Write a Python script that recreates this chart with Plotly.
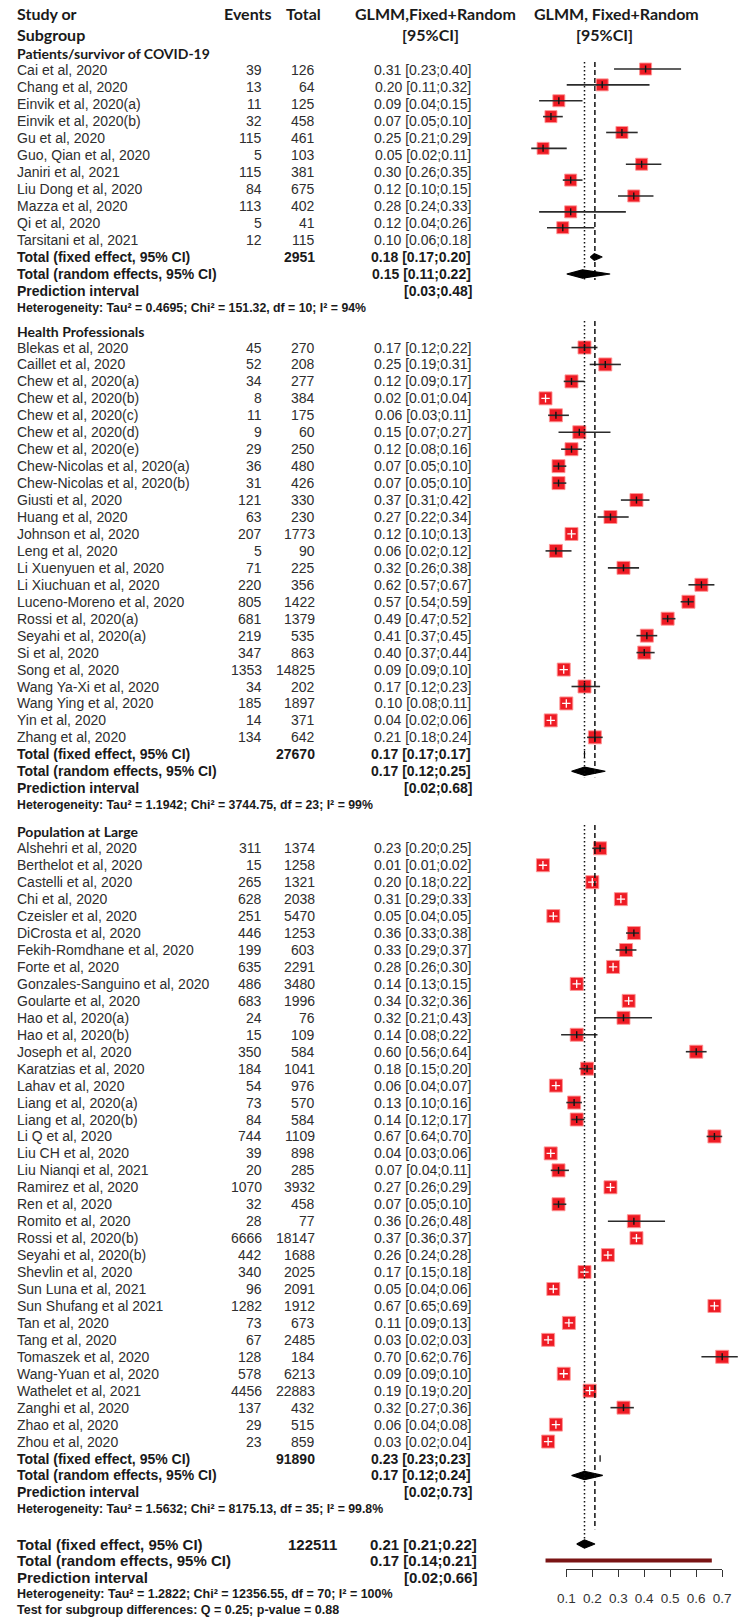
import plotly.graph_objects as go

W, H = 750, 1618          # target window (the page body margin is removed below)

# ---------------- DATA ----------------
group_titles = ["Patients/survivor of COVID-19", "Health Professionals", "Population at Large"]

g1_names = ["Cai et al, 2020", "Chang et al, 2020", "Einvik et al, 2020(a)", "Einvik et al, 2020(b)",
            "Gu et al, 2020", "Guo, Qian et al, 2020", "Janiri et al, 2021", "Liu Dong et al, 2020",
            "Mazza et al, 2020", "Qi et al, 2020", "Tarsitani et al, 2021"]
g1_events = [39, 13, 11, 32, 115, 5, 115, 84, 113, 5, 12]
g1_total = [126, 64, 125, 458, 461, 103, 381, 675, 402, 41, 115]
g1_est = [0.31, 0.20, 0.09, 0.07, 0.25, 0.05, 0.30, 0.12, 0.28, 0.12, 0.10]
g1_lo = [0.23, 0.11, 0.04, 0.05, 0.21, 0.02, 0.26, 0.10, 0.24, 0.04, 0.06]
g1_hi = [0.40, 0.32, 0.15, 0.10, 0.29, 0.11, 0.35, 0.15, 0.33, 0.26, 0.18]

g2_names = ["Blekas et al, 2020", "Caillet et al, 2020", "Chew et al, 2020(a)", "Chew et al, 2020(b)",
            "Chew et al, 2020(c)", "Chew et al, 2020(d)", "Chew et al, 2020(e)",
            "Chew-Nicolas et al, 2020(a)", "Chew-Nicolas et al, 2020(b)", "Giusti et al, 2020",
            "Huang et al, 2020", "Johnson et al, 2020", "Leng et al, 2020", "Li Xuenyuen et al, 2020",
            "Li Xiuchuan et al, 2020", "Luceno-Moreno et al, 2020", "Rossi et al, 2020(a)",
            "Seyahi et al, 2020(a)", "Si et al, 2020", "Song et al, 2020", "Wang Ya-Xi et al, 2020",
            "Wang Ying et al, 2020", "Yin et al, 2020", "Zhang et al, 2020"]
g2_events = [45, 52, 34, 8, 11, 9, 29, 36, 31, 121, 63, 207, 5, 71, 220, 805, 681, 219, 347, 1353, 34, 185, 14, 134]
g2_total = [270, 208, 277, 384, 175, 60, 250, 480, 426, 330, 230, 1773, 90, 225, 356, 1422, 1379, 535, 863,
            14825, 202, 1897, 371, 642]
g2_est = [0.17, 0.25, 0.12, 0.02, 0.06, 0.15, 0.12, 0.07, 0.07, 0.37, 0.27, 0.12, 0.06, 0.32, 0.62, 0.57,
          0.49, 0.41, 0.40, 0.09, 0.17, 0.10, 0.04, 0.21]
g2_lo = [0.12, 0.19, 0.09, 0.01, 0.03, 0.07, 0.08, 0.05, 0.05, 0.31, 0.22, 0.10, 0.02, 0.26, 0.57, 0.54,
         0.47, 0.37, 0.37, 0.09, 0.12, 0.08, 0.02, 0.18]
g2_hi = [0.22, 0.31, 0.17, 0.04, 0.11, 0.27, 0.16, 0.10, 0.10, 0.42, 0.34, 0.13, 0.12, 0.38, 0.67, 0.59,
         0.52, 0.45, 0.44, 0.10, 0.23, 0.11, 0.06, 0.24]

g3_names = ["Alshehri et al, 2020", "Berthelot et al, 2020", "Castelli et al, 2020", "Chi et al, 2020",
            "Czeisler et al, 2020", "DiCrosta et al, 2020", "Fekih-Romdhane et al, 2020", "Forte et al, 2020",
            "Gonzales-Sanguino et al, 2020", "Goularte et al, 2020", "Hao et al, 2020(a)", "Hao et al, 2020(b)",
            "Joseph et al, 2020", "Karatzias et al, 2020", "Lahav et al, 2020", "Liang et al, 2020(a)",
            "Liang et al, 2020(b)", "Li Q et al, 2020", "Liu CH et al, 2020", "Liu Nianqi et al, 2021",
            "Ramirez et al, 2020", "Ren et al, 2020", "Romito et al, 2020", "Rossi et al, 2020(b)",
            "Seyahi et al, 2020(b)", "Shevlin et al, 2020", "Sun Luna et al, 2021", "Sun Shufang et al 2021",
            "Tan et al, 2020", "Tang et al, 2020", "Tomaszek et al, 2020", "Wang-Yuan et al, 2020",
            "Wathelet et al, 2021", "Zanghi et al, 2020", "Zhao et al, 2020", "Zhou et al, 2020"]
g3_events = [311, 15, 265, 628, 251, 446, 199, 635, 486, 683, 24, 15, 350, 184, 54, 73, 84, 744, 39, 20, 1070,
             32, 28, 6666, 442, 340, 96, 1282, 73, 67, 128, 578, 4456, 137, 29, 23]
g3_total = [1374, 1258, 1321, 2038, 5470, 1253, 603, 2291, 3480, 1996, 76, 109, 584, 1041, 976, 570, 584, 1109,
            898, 285, 3932, 458, 77, 18147, 1688, 2025, 2091, 1912, 673, 2485, 184, 6213, 22883, 432, 515, 859]
g3_est = [0.23, 0.01, 0.20, 0.31, 0.05, 0.36, 0.33, 0.28, 0.14, 0.34, 0.32, 0.14, 0.60, 0.18, 0.06, 0.13, 0.14,
          0.67, 0.04, 0.07, 0.27, 0.07, 0.36, 0.37, 0.26, 0.17, 0.05, 0.67, 0.11, 0.03, 0.70, 0.09, 0.19, 0.32,
          0.06, 0.03]
g3_lo = [0.20, 0.01, 0.18, 0.29, 0.04, 0.33, 0.29, 0.26, 0.13, 0.32, 0.21, 0.08, 0.56, 0.15, 0.04, 0.10, 0.12,
         0.64, 0.03, 0.04, 0.26, 0.05, 0.26, 0.36, 0.24, 0.15, 0.04, 0.65, 0.09, 0.02, 0.62, 0.09, 0.19, 0.27,
         0.04, 0.02]
g3_hi = [0.25, 0.02, 0.22, 0.33, 0.05, 0.38, 0.37, 0.30, 0.15, 0.36, 0.43, 0.22, 0.64, 0.20, 0.07, 0.16, 0.17,
         0.70, 0.06, 0.11, 0.29, 0.10, 0.48, 0.37, 0.28, 0.18, 0.06, 0.69, 0.13, 0.03, 0.76, 0.10, 0.20, 0.36,
         0.08, 0.04]

group_n = [2951, 27670, 91890]
fixed_est = [0.18, 0.17, 0.23]
fixed_lo = [0.17, 0.17, 0.23]
fixed_hi = [0.20, 0.17, 0.23]
random_est = [0.15, 0.17, 0.17]
random_lo = [0.11, 0.12, 0.12]
random_hi = [0.22, 0.25, 0.24]
pred_lo = [0.03, 0.02, 0.02]
pred_hi = [0.48, 0.68, 0.73]
het_tau2 = ["0.4695", "1.1942", "1.5632"]
het_chi2 = ["151.32", "3744.75", "8175.13"]
het_df = [10, 23, 35]
het_i2 = ["94%", "99%", "99.8%"]

overall_n = 122511
overall_fixed = [0.21, 0.21, 0.22]
overall_random = [0.17, 0.14, 0.21]
overall_pred = [0.02, 0.66]
overall_het = ["1.2822", "12356.55", 70, "100%"]
subgroup_q = "0.25"
subgroup_p = "0.88"

ref_random = 0.17
ref_fixed = 0.21
axis_ticks = [0.1, 0.2, 0.3, 0.4, 0.5, 0.6, 0.7]

groups = [
    (g1_names, g1_events, g1_total, g1_est, g1_lo, g1_hi),
    (g2_names, g2_events, g2_total, g2_est, g2_lo, g2_hi),
    (g3_names, g3_events, g3_total, g3_est, g3_lo, g3_hi),
]

# ---------------- LAYOUT PARAMETERS (window pixels) ----------------
PX0, PXU = 544.4, 266.2      # main panel scale  (pixel = PX0 + PXU * value)
G1X0, G1XU = 527.0, 404.0    # first subgroup panel scale
layout_g = [
    dict(header=53.5, first=70.0, row=17.0, mfirst=69.0, mrow=15.87, xa="x2", unit=G1XU, top=62, sq=12),
    dict(header=331.0, first=347.5, row=16.95, mfirst=347.5, mrow=16.95, xa="x", unit=PXU, top=321, sq=13),
    dict(header=831.5, first=848.3, row=16.95, mfirst=848.3, mrow=16.95, xa="x", unit=PXU, top=825, sq=13),
]
OV_FIRST, OV_ROW = 1544.0, 16.6

BODY = "Liberation Sans, Arial, sans-serif"
HEAD = "Lato, Carlito, sans-serif"
INK = "#1a1a1a"
SOFT = "#2e2e2e"
X_NAME, X_EV, X_TOT, X_EST = 7, 260, 315, 474

ann = []


def txt(x, y, s, anchor="left", size=14, bold=False, family=BODY, color=INK):
    ann.append(dict(x=x / W, y=y, xref="paper", yref="y", text=(f"<b>{s}</b>" if bold else s),
                    showarrow=False, xanchor=anchor, yanchor="middle", borderpad=0,
                    font=dict(family=family, size=size, color=color)))


def ci(e, l, h):
    return f"{e:.2f} [{l:.2f};{h:.2f}]"


# header
HS = 16
txt(X_NAME, 13, "Study or", size=HS, bold=True, family=HEAD)
txt(X_NAME, 34, "Subgroup", size=HS, bold=True, family=HEAD)
txt(245, 13, "Events", "center", HS, True, HEAD)
txt(302, 13, "Total", "center", HS, True, HEAD)
txt(437, 13, "GLMM,Fixed+Random", "center", HS, True, HEAD)
txt(432, 34, "[95%CI]", "center", HS, True, HEAD)
txt(622, 13, "GLMM, Fixed+Random", "center", HS, True, HEAD)
txt(610, 34, "[95%CI]", "center", HS, True, HEAD)

fig = go.Figure()

seg_dot_x, seg_dot_y, seg_dash_x, seg_dash_y = [], [], [], []

for gi, (names, ev, tot, est, lo, hi) in enumerate(groups):
    L = layout_g[gi]
    n = len(names)
    txt(X_NAME, L["header"], group_titles[gi], size=14, bold=True, family=HEAD)
    ty = [L["first"] + i * L["row"] for i in range(n)]
    my = [L["mfirst"] + i * L["mrow"] for i in range(n)]
    for i in range(n):
        txt(X_NAME, ty[i], names[i], color=SOFT)
        txt(X_EV, ty[i], str(ev[i]), "right", color=SOFT)
        txt(X_TOT, ty[i], str(tot[i]), "right", color=SOFT)
        txt(X_EST, ty[i], ci(est[i], lo[i], hi[i]), "right", color=SOFT)
    y_fix = L["first"] + n * L["row"]
    y_ran = y_fix + L["row"]
    y_pre = y_ran + L["row"]
    y_het = y_pre + L["row"]
    txt(X_NAME, y_fix, "Total (fixed effect, 95% CI)", bold=True)
    txt(X_TOT, y_fix, str(group_n[gi]), "right", bold=True)
    txt(X_EST, y_fix, ci(fixed_est[gi], fixed_lo[gi], fixed_hi[gi]), "right", bold=True)
    txt(X_NAME, y_ran, "Total (random effects, 95% CI)", bold=True)
    txt(X_EST, y_ran, ci(random_est[gi], random_lo[gi], random_hi[gi]), "right", bold=True)
    txt(X_NAME, y_pre, "Prediction interval", bold=True)
    txt(X_EST + 1, y_pre, f"[{pred_lo[gi]:.2f};{pred_hi[gi]:.2f}]", "right", bold=True)
    txt(X_NAME, y_het, f"Heterogeneity: Tau² = {het_tau2[gi]}; Chi² = {het_chi2[gi]}, df = {het_df[gi]}; "
                       f"I² = {het_i2[gi]}", size=12.3, bold=True)

    xa = L["xa"]
    # squares
    fig.add_trace(go.Scatter(x=est, y=my, mode="markers", xaxis=xa, yaxis="y", hoverinfo="skip",
                             marker=dict(symbol="square", size=L["sq"], color="#ee1b24",
                                         line=dict(color="rgba(255,150,150,0.9)", width=1))))
    wide = [(hi[i] - lo[i]) * L["unit"] > L["sq"] - 1 for i in range(n)]
    cx, cy = [], []
    for i in range(n):
        if wide[i]:
            cx += [lo[i], hi[i], None]
            cy += [my[i], my[i], None]
    fig.add_trace(go.Scatter(x=cx, y=cy, mode="lines", xaxis=xa, yaxis="y", hoverinfo="skip",
                             line=dict(color="#2b2b2b", width=1.6)))
    fig.add_trace(go.Scatter(x=[est[i] for i in range(n) if wide[i]], y=[my[i] for i in range(n) if wide[i]],
                             mode="markers", xaxis=xa, yaxis="y", hoverinfo="skip",
                             marker=dict(symbol="line-ns", size=5, line=dict(color="#111", width=1.4))))
    fig.add_trace(go.Scatter(x=[est[i] for i in range(n) if not wide[i]],
                             y=[my[i] for i in range(n) if not wide[i]],
                             mode="markers", xaxis=xa, yaxis="y", hoverinfo="skip",
                             marker=dict(symbol="cross-thin", size=6, line=dict(color="white", width=1.3))))
    # diamonds
    dx, dy = [], []
    for (e, l, h, yy, hh) in [(fixed_est[gi], fixed_lo[gi], fixed_hi[gi], y_fix, 3.2),
                              (random_est[gi], random_lo[gi], random_hi[gi], y_ran, 4.2)]:
        dx += [l, e, h, e, l, None]
        dy += [yy, yy - hh, yy, yy + hh, yy, None]
    fig.add_trace(go.Scatter(x=dx, y=dy, mode="lines", fill="toself", fillcolor="#000", xaxis=xa, yaxis="y",
                             hoverinfo="skip", line=dict(color="#000", width=1.2)))
    # reference line segments
    bottom = y_ran + 6
    if gi < 2:
        seg_dot_x += [ref_random, ref_random, None]
        seg_dot_y += [L["top"], bottom, None]
        seg_dash_x += [ref_fixed, ref_fixed, None]
        seg_dash_y += [L["top"], bottom, None]
    else:
        seg_dot_x += [ref_random, ref_random, None]
        seg_dot_y += [L["top"], OV_FIRST, None]
        seg_dash_x += [ref_fixed, ref_fixed, None]
        seg_dash_y += [L["top"], y_het + 20, None]

fig.add_trace(go.Scatter(x=seg_dot_x, y=seg_dot_y, mode="lines", xaxis="x", yaxis="y", hoverinfo="skip",
                         line=dict(color="#111", width=1.5, dash="1.5px,2.5px")))
fig.add_trace(go.Scatter(x=seg_dash_x, y=seg_dash_y, mode="lines", xaxis="x", yaxis="y", hoverinfo="skip",
                         line=dict(color="#111", width=1.5, dash="5px,3px")))

# overall block
oy = [OV_FIRST + k * OV_ROW for k in range(5)]
OS = 15
txt(X_NAME, oy[0], "Total (fixed effect, 95% CI)", size=OS, bold=True)
txt(337, oy[0], str(overall_n), "right", size=OS, bold=True)
txt(481, oy[0], ci(*overall_fixed), "right", size=OS, bold=True)
txt(X_NAME, oy[1], "Total (random effects, 95% CI)", size=OS, bold=True)
txt(481, oy[1], ci(*overall_random), "right", size=OS, bold=True)
txt(X_NAME, oy[2], "Prediction interval", size=OS, bold=True)
txt(481, oy[2], f"[{overall_pred[0]:.2f};{overall_pred[1]:.2f}]", "right", size=OS, bold=True)
txt(X_NAME, oy[3], f"Heterogeneity: Tau² = {overall_het[0]}; Chi² = {overall_het[1]}, df = {overall_het[2]}; "
                   f"I² = {overall_het[3]}", size=12.5, bold=True)
txt(X_NAME, oy[4], f"Test for subgroup differences: Q = {subgroup_q}; p-value = {subgroup_p}", size=12.5, bold=True)

e, l, h = overall_random
fig.add_trace(go.Scatter(x=[l, e, h, e, l], y=[oy[0], oy[0] - 4.2, oy[0], oy[0] + 4.2, oy[0]], mode="lines",
                         fill="toself", fillcolor="#000", xaxis="x", yaxis="y", hoverinfo="skip",
                         line=dict(color="#000", width=1.2)))
fig.add_trace(go.Scatter(x=overall_pred, y=[oy[1], oy[1]], mode="lines", xaxis="x", yaxis="y", hoverinfo="skip",
                         line=dict(color="#7a1414", width=4)))

# axis carrier
fig.add_trace(go.Scatter(x=[axis_ticks[0]], y=[H], mode="markers", xaxis="x3", yaxis="y", hoverinfo="skip",
                         marker=dict(opacity=0)))

AXIS_Y = 1569.3
fig.update_layout(
    width=W, height=H, autosize=False, showlegend=False,
    margin=dict(l=0, r=0, t=0, b=0),
    paper_bgcolor="white", plot_bgcolor="rgba(0,0,0,0)",
    annotations=ann,
    xaxis=dict(domain=[0, 1], range=[-PX0 / PXU, (W - PX0) / PXU], visible=False, fixedrange=True),
    xaxis2=dict(overlaying="x", range=[-G1X0 / G1XU, (W - G1X0) / G1XU], visible=False, fixedrange=True),
    xaxis3=dict(domain=[(PX0 + PXU * axis_ticks[0]) / W, (PX0 + PXU * axis_ticks[-1]) / W],
                range=[axis_ticks[0], axis_ticks[-1]], anchor="free", position=1 - AXIS_Y / H,
                tickvals=axis_ticks, ticktext=[f"{t:.1f}" for t in axis_ticks],
                ticks="outside", ticklen=7, tickwidth=1, tickcolor="#333",
                showline=True, linecolor="#333", linewidth=1, showgrid=False, zeroline=False,
                ticklabelstandoff=9, tickfont=dict(family=BODY, size=13.5, color="#333"), fixedrange=True),
    yaxis=dict(domain=[0, 1], range=[H, 0], visible=False, fixedrange=True),
)

fig.write_html("out.html", config={"displayModeBar": False, "staticPlot": True},
               post_script="document.body.style.margin='0px';")
